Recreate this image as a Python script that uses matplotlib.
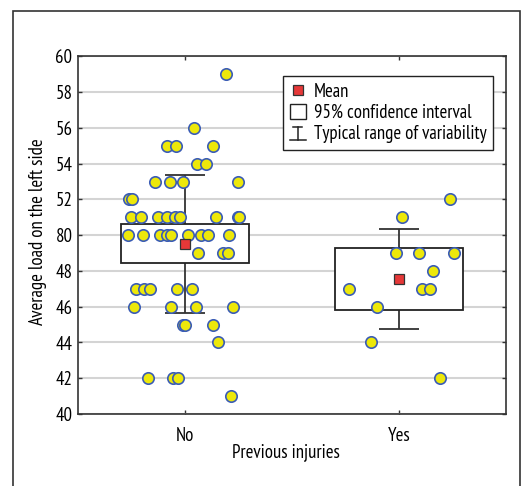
import numpy as np
import matplotlib
matplotlib.use("Agg")
import matplotlib.pyplot as plt
from matplotlib.lines import Line2D
from matplotlib.patches import Rectangle
from matplotlib.legend_handler import HandlerBase

# --- data ---
categories = ["No", "Yes"]

no_values = [59, 56, 55, 55, 55, 54, 54, 53, 53, 53, 53, 52, 52,
             51, 51, 51, 51, 51, 51, 51, 51, 51,
             50, 50, 50, 50, 50, 50, 50, 50, 50,
             49, 49, 49, 47, 47, 47, 47, 47, 46, 46, 46, 46,
             45, 45, 45, 44, 42, 42, 42, 41]
no_jitter = [0.19, 0.04, -0.086, -0.042, 0.132, 0.055, 0.097, -0.139, -0.070, -0.008, 0.246, -0.262, -0.246,
             -0.254, -0.207, -0.125, -0.083, -0.047, -0.023, 0.145, 0.246, 0.252,
             -0.266, -0.195, -0.117, -0.086, -0.067, 0.013, 0.076, 0.109, 0.207,
             0.062, 0.176, 0.200, -0.230, -0.190, -0.164, -0.039, 0.031, -0.238, -0.065, 0.053, 0.223,
             -0.008, 0.0, 0.129, 0.156, -0.171, -0.055, -0.031, 0.215]

yes_values = [52, 51, 49, 49, 49, 48, 47, 47, 47, 46, 44, 42]
yes_jitter = [0.238, 0.015, -0.013, 0.095, 0.257, 0.157, -0.235, 0.107, 0.143, -0.104, -0.132, 0.192]

means = [49.52, 47.56]
ci_low = [48.44, 45.83]
ci_high = [50.63, 49.28]
range_low = [45.66, 44.76]
range_high = [53.39, 50.35]

yticks = [40, 42, 44, 46, 48, 50, 52, 54, 56, 58, 60]
ytick_labels = ["40", "42", "44", "46", "48", "80", "52", "54", "56", "58", "60"]

plt.rcParams['font.family'] = ['PT Sans Narrow', 'DejaVu Sans']
FS = 13


class IBeamHandler(HandlerBase):
    # legend symbol: short top bar, stem, long bottom bar
    def create_artists(self, legend, orig_handle, xdescent, ydescent,
                       width, height, fontsize, trans):
        x0, y0 = -xdescent, -ydescent
        cx = x0 + width / 2
        lines = [Line2D([x0 + width * 0.2, x0 + width * 0.8], [y0 + height * 0.85] * 2),
                 Line2D([cx, cx], [y0 + height * 0.05, y0 + height * 0.85]),
                 Line2D([x0, x0 + width], [y0 + height * 0.05] * 2)]
        for ln in lines:
            ln.set_color("#222222")
            ln.set_linewidth(1.1)
            ln.set_transform(trans)
        return lines


fig = plt.figure(figsize=(5.22, 4.86), dpi=100)
fig.patches.append(Rectangle((13 / 522, -0.1), 507 / 522, 1.1 - 11 / 486,
                             transform=fig.transFigure, fill=False,
                             edgecolor="#333333", lw=1.2))
ax = fig.add_axes([78 / 522, 1 - 414 / 486, 428 / 522, 357.5 / 486])

x = np.arange(len(categories))
box_w = 0.6
cap_w = 0.19
for i in range(len(categories)):
    ax.vlines(x[i], ci_high[i], range_high[i], color="#333333", lw=1.3, zorder=2)
    ax.vlines(x[i], range_low[i], ci_low[i], color="#333333", lw=1.3, zorder=2)
    ax.hlines([range_low[i], range_high[i]], x[i] - cap_w / 2, x[i] + cap_w / 2,
              color="#333333", lw=1.3, zorder=2)
ax.bar(x, np.array(ci_high) - np.array(ci_low), bottom=ci_low, width=box_w,
       facecolor="white", edgecolor="#222222", lw=1.3, zorder=2)

pt_style = dict(marker="o", ms=8.2, mfc="#ede80a", mec="#3a5cb5", mew=1.2,
                ls="none", zorder=3)
ax.plot(x[0] + np.array(no_jitter), no_values, **pt_style)
ax.plot(x[1] + np.array(yes_jitter), yes_values, **pt_style)
ax.plot(x, means, marker="s", ms=6.5, mfc="#e63838", mec="#333333", mew=0.9,
        ls="none", zorder=4)

ax.set_xlim(-0.5, 1.5)
ax.set_ylim(40, 60)
ax.set_yticks(yticks)
ax.set_yticklabels(ytick_labels)
ax.set_xticks(x)
ax.set_xticklabels(categories)
ax.yaxis.grid(True, color="#d4d4d4", lw=1.5)
ax.set_axisbelow(True)
ax.tick_params(axis="both", direction="in", length=3, width=1, color="#333333",
               labelsize=FS + 0.5, top=True, right=True, pad=4)
ax.tick_params(axis="x", pad=9)
for s in ax.spines.values():
    s.set_color("#333333")
    s.set_linewidth(1.2)

ax.set_ylabel("Average load on the left side", fontsize=FS + 0.5)
ax.set_xlabel("Previous injuries", fontsize=FS + 0.5)
ax.xaxis.set_label_coords(0.486, -0.08)
ax.yaxis.set_label_coords(-0.072, 0.51)

mean_h = Line2D([], [], marker="s", ms=6.5, mfc="#e63838", mec="#333333", mew=0.9, ls="none")
ci_h = Rectangle((0, 0), 1, 1, facecolor="white", edgecolor="#222222", lw=1.0)
range_h = Line2D([], [])
labels = ["Mean", "95% confidence interval", "Typical range of variability"]
leg = ax.legend([mean_h, ci_h, range_h], labels, loc="upper right",
                bbox_to_anchor=(0.970, 0.945), borderaxespad=0, fancybox=False,
                framealpha=1, edgecolor="#222222", fontsize=FS + 0.5,
                handlelength=0.85, handleheight=0.9, handletextpad=0.45,
                labelspacing=0.15, borderpad=0.35,
                handler_map={range_h: IBeamHandler()})
leg.get_frame().set_linewidth(1.0)
leg.set_zorder(5)

fig.savefig("out.png", dpi=100)
